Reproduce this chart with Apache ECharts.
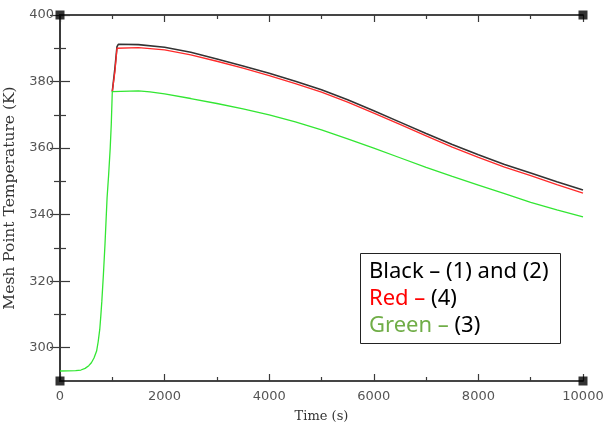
<!DOCTYPE html>
<html>
<head>
<meta charset="utf-8">
<script src="https://cdn.jsdelivr.net/npm/echarts@6.0.0/dist/echarts.min.js"></script>
<style>
  html, body { margin: 0; padding: 0; background: #fff; }
  #chart { width: 605px; height: 427px; }
</style>
</head>
<body>
<div id="chart"></div>
<script>
// tick values
const xMajor = [0, 2000, 4000, 6000, 8000, 10000];
const xMinor = [1000, 3000, 5000, 7000, 9000];
const yMajor = [300, 320, 340, 360, 380, 400];
const yMinor = [310, 330, 350, 370, 390];

// Black - (1) and (2)
const blackTime = [1000, 1050, 1090, 1115, 1500, 2000, 2500, 3000, 3500, 4000, 4500, 5000, 5500, 6000, 6500, 7000, 7500, 8000, 8500, 9000, 9500, 10000];
const blackTemp = [377, 384, 390.5, 391.2, 391.1, 390.3, 388.8, 386.8, 384.7, 382.5, 380.1, 377.5, 374.5, 371.2, 367.8, 364.4, 361.1, 358.0, 355.1, 352.5, 349.9, 347.4];

// Red - (4)
const redTime = [1000, 1050, 1090, 1115, 1500, 2000, 2500, 3000, 3500, 4000, 4500, 5000, 5500, 6000, 6500, 7000, 7500, 8000, 8500, 9000, 9500, 10000];
const redTemp = [377, 383, 390.0, 390.2, 390.2, 389.5, 388.0, 386.1, 384.0, 381.8, 379.4, 376.8, 373.8, 370.5, 367.1, 363.7, 360.3, 357.2, 354.3, 351.7, 349.0, 346.5];

// Green - (3)
const greenTime = [0, 300, 400, 480, 550, 600, 650, 700, 730, 760, 780, 800, 830, 860, 880, 900, 930, 960, 980, 1000, 1020, 1500, 1720, 2000, 2500, 3000, 3500, 4000, 4500, 5000, 5500, 6000, 6500, 7000, 7500, 8000, 8500, 9000, 9500, 10000];
const greenTemp = [293, 293.1, 293.3, 293.8, 294.6, 295.5, 296.9, 299, 301.8, 305.5, 309.5, 314, 322, 331, 338, 345, 352, 360, 367, 377, 377.3, 377.2, 376.9, 376.3, 374.9, 373.4, 371.8, 370.0, 367.9, 365.5, 362.8, 360.0, 357.1, 354.2, 351.5, 348.9, 346.3, 343.7, 341.4, 339.3];

const corners = [[0, 290], [0, 400], [10000, 290], [10000, 400]];

const zip = (xs, ys) => xs.map((x, i) => [x, ys[i]]);

const lineCol = '#3a3a3a';
const labelStyle = { color: '#555', fontSize: 13, fontFamily: 'DejaVu Sans', formatter: v => String(v) };

function xAx(pos, ticks, len, labels) {
    return {
        type: 'value', min: 0, max: 10000, position: pos,
        axisLine: { show: true, lineStyle: { color: lineCol, width: 1.5 } },
        axisTick: { show: true, inside: true, length: len, customValues: ticks, lineStyle: { color: lineCol, width: 1.2 } },
        axisLabel: labels ? Object.assign({ show: true, margin: 9, customValues: ticks }, labelStyle) : { show: false },
        splitLine: { show: false }
    };
}
function yAx(pos, ticks, len, labels) {
    return {
        type: 'value', min: 290, max: 400, position: pos,
        axisLine: { show: true, lineStyle: { color: lineCol, width: 1.5 } },
        axisTick: { show: true, inside: true, length: len, customValues: ticks, lineStyle: { color: lineCol, width: 1.2 } },
        axisLabel: labels ? Object.assign({ show: true, margin: 6, customValues: ticks }, labelStyle) : { show: false },
        splitLine: { show: false }
    };
}

const xMain = xAx('bottom', xMajor, 7, true);
xMain.name = 'Time (s)';
xMain.nameLocation = 'middle';
xMain.nameGap = 29;
xMain.nameTextStyle = { color: '#333', fontSize: 13, fontFamily: 'DejaVu Serif' };

const yMain = yAx('left', yMajor, 10, true);
yMain.name = 'Mesh Point Temperature (K)';
yMain.nameLocation = 'middle';
yMain.nameGap = 34;
yMain.nameTextStyle = { color: '#333', fontSize: 15.5, fontFamily: 'DejaVu Serif' };

const chart = echarts.init(document.getElementById('chart'));
const legendFont = { fontSize: 22, fontFamily: 'Noto Sans' };

chart.setOption({
    animation: false,
    backgroundColor: '#fff',
    grid: { left: 60, right: 22, top: 15, bottom: 46, outerBoundsMode: 'none' },
    xAxis: [
        xMain,
        xAx('bottom', xMinor, 4, false),
        xAx('top', xMajor, 7, false),
        xAx('top', xMinor, 4, false)
    ],
    yAxis: [
        yMain,
        yAx('left', yMinor, 6, false),
        yAx('right', yMajor, 10, false),
        yAx('right', yMinor, 6, false)
    ],
    series: [
        {
            type: 'line', data: zip(blackTime, blackTemp), showSymbol: false,
            lineStyle: { color: '#333', width: 1.6 }
        },
        {
            type: 'line', data: zip(redTime, redTemp), showSymbol: false,
            lineStyle: { color: '#ff2a2a', width: 1.3 }
        },
        {
            type: 'line', data: zip(greenTime, greenTemp), showSymbol: false,
            lineStyle: { color: '#33e633', width: 1.3 }
        },
        {
            type: 'scatter', data: corners, symbol: 'rect', symbolSize: 9,
            clip: false, z: 10, itemStyle: { color: '#000' }
        }
    ],
    graphic: [
        {
            type: 'rect', left: 360, top: 253, z: 20,
            shape: { width: 200, height: 90 },
            style: { fill: '#fff', stroke: '#222', lineWidth: 1 }
        },
        {
            type: 'text', x: 369, y: 272, z: 21,
            style: Object.assign({ text: 'Black – (1) and (2)', fill: '#000', verticalAlign: 'middle' }, legendFont)
        },
        {
            type: 'text', x: 369, y: 299, z: 21,
            style: Object.assign({
                text: '{r|Red –} (4)', fill: '#000', verticalAlign: 'middle',
                rich: { r: Object.assign({ fill: '#ff0000' }, legendFont) }
            }, legendFont)
        },
        {
            type: 'text', x: 369, y: 326, z: 21,
            style: Object.assign({
                text: '{g|Green –} (3)', fill: '#000', verticalAlign: 'middle',
                rich: { g: Object.assign({ fill: '#70ad47' }, legendFont) }
            }, legendFont)
        }
    ]
});
</script>
</body>
</html>
